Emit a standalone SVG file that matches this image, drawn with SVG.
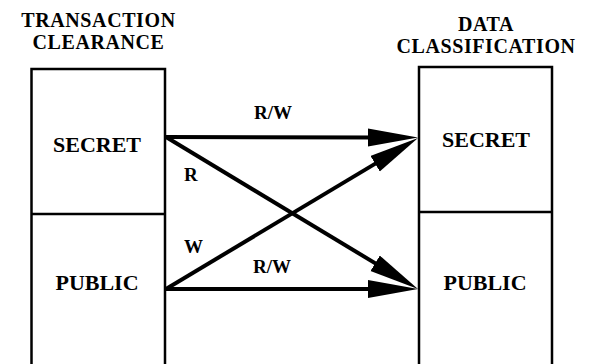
<svg xmlns="http://www.w3.org/2000/svg" width="594" height="364" viewBox="0 0 594 364">
<style>
.hdr{font-family:"Liberation Serif","Times New Roman",serif;font-weight:bold;font-size:20px;letter-spacing:0.6px;text-anchor:middle;fill:#000}
.nd{font-family:"Liberation Serif","Times New Roman",serif;font-weight:bold;font-size:22px;text-anchor:middle;fill:#000}
.lbl{font-family:"Liberation Serif","Times New Roman",serif;font-weight:bold;font-size:19px;fill:#000}
.box{fill:#fff;stroke:#000;stroke-width:2.5}
.edge{stroke:#000;stroke-width:4;fill:none}
</style>
<defs>
<marker id="ah" markerUnits="userSpaceOnUse" markerWidth="52" markerHeight="20" refX="10" refY="9" orient="auto">
<path d="M0,0 L50,9 L0,18 Z" fill="#000"/>
</marker>
</defs>
<rect width="594" height="364" fill="#fff"/>
<g id="header-left">
<text class="hdr" x="98.5" y="27">TRANSACTION</text>
<text class="hdr" x="98.5" y="49">CLEARANCE</text>
</g>
<g id="header-right">
<text class="hdr" x="486" y="31">DATA</text>
<text class="hdr" x="486" y="53">CLASSIFICATION</text>
</g>
<g id="clear-secret">
<path class="box" d="M31.5,370 V69 H165 V370"/>
<text class="nd" x="97" y="152">SECRET</text>
</g>
<g id="clear-public">
<line x1="31.5" y1="214" x2="165" y2="214" stroke="#000" stroke-width="2.5"/>
<text class="nd" x="97" y="290">PUBLIC</text>
</g>
<g id="data-secret">
<path class="box" d="M419,370 V67 H552 V370"/>
<text class="nd" x="486" y="147">SECRET</text>
</g>
<g id="data-public">
<line x1="419" y1="212" x2="552" y2="212" stroke="#000" stroke-width="2.5"/>
<text class="nd" x="485" y="290">PUBLIC</text>
</g>
<g id="connectors">
<line class="edge" x1="166" y1="137" x2="378" y2="137.5" marker-end="url(#ah)"/>
<line class="edge" x1="166" y1="137" x2="383.7" y2="268.4" marker-end="url(#ah)"/>
<line class="edge" x1="166" y1="289" x2="383.7" y2="158.6" marker-end="url(#ah)"/>
<line class="edge" x1="166" y1="289" x2="378" y2="289" marker-end="url(#ah)"/>
<text class="lbl" x="254" y="119">R/W</text>
<text class="lbl" x="184" y="181">R</text>
<text class="lbl" x="184" y="253">W</text>
<text class="lbl" x="253" y="273">R/W</text>
</g>
</svg>
